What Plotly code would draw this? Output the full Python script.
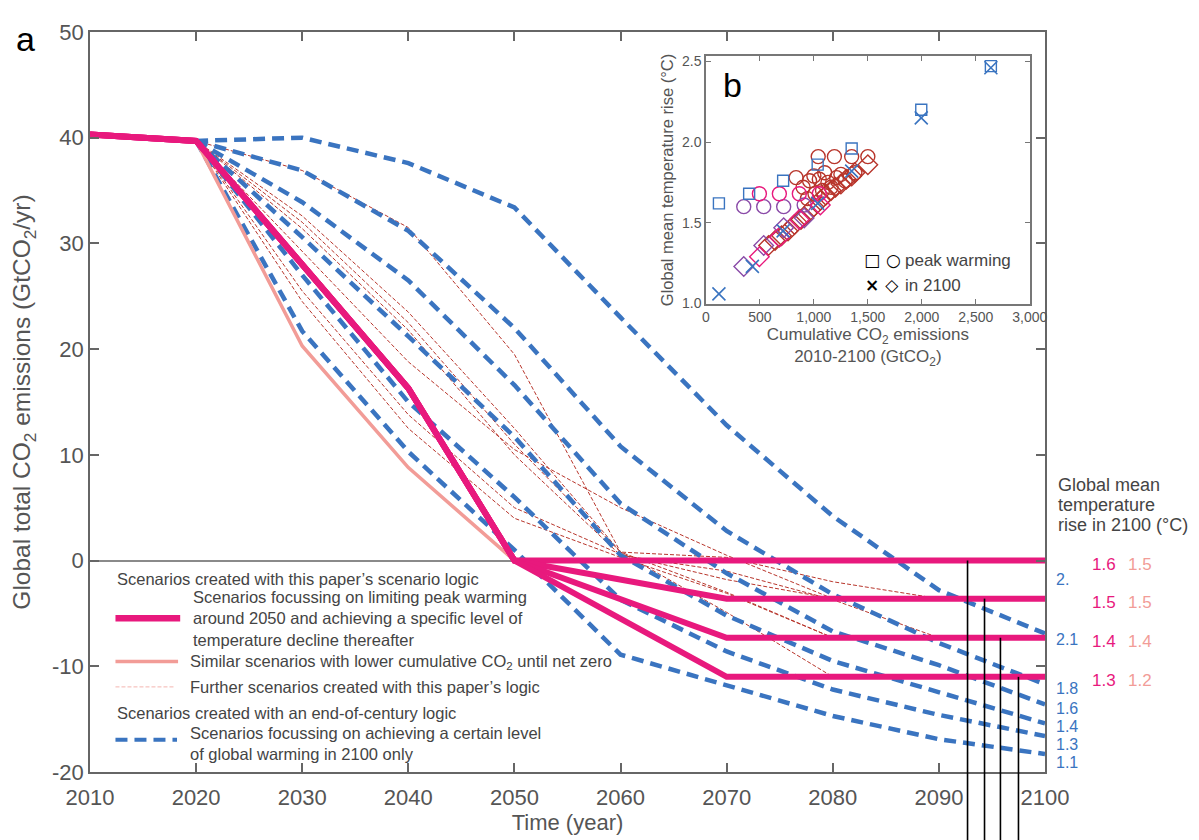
import plotly.graph_objects as go

# ---- panel a : global CO2 emission pathways (GtCO2/yr) ----
pink_years = [2010, 2020, 2040, 2050]
pink_vals = [40.3, 39.7, 16.3, 0.0]
pink_tail_years = [2070, 2100]
pink_levels = [0.0, -3.6, -7.3, -11.0]
pink_temp = ["1.6", "1.5", "1.4", "1.3"]
salmon_temp = ["1.5", "1.5", "1.4", "1.2"]

salmon_years = [2020, 2030, 2040, 2050]
salmon_vals = [39.7, 20.3, 8.8, 0.0]

blue_years = [2020, 2030, 2040, 2050, 2060, 2070, 2080, 2090, 2100]
blue_21 = [39.7, 40.0, 37.6, 33.4, 23.0, 12.8, 4.2, -2.8, -6.9]
blue_18 = [39.7, 36.9, 31.2, 22.0, 10.8, 2.8, -3.2, -7.8, -11.7]
blue_16 = [39.7, 33.9, 26.5, 16.6, 5.4, -1.2, -6.7, -9.9, -13.6]
blue_14 = [39.7, 30.6, 21.2, 11.7, 0.5, -5.2, -9.5, -12.4, -15.4]
blue_13 = [39.7, 27.0, 15.0, 6.0, -3.7, -8.6, -12.2, -14.6, -16.6]
blue_11 = [39.7, 21.7, 10.3, 1.0, -8.9, -11.8, -14.7, -16.9, -18.3]
blue_labels = ["2.", "2.1", "1.8", "1.6", "1.4", "1.3", "1.1"]
blue_label_y = [-1.8, -7.5, -12.1, -14.0, -15.7, -17.4, -19.1]

red_years_a = [2020, 2030, 2040, 2050, 2060, 2070, 2080]
red_years_b = [2020, 2030, 2040, 2050, 2060, 2070, 2080, 2090]
red_1 = [39.7, 36.9, 31.5, 19.5, 0.8, -3.0, -7.3]
red_2 = [39.7, 32.6, 23.5, 12.5, 0.8, -4.9, -11.0]
red_3 = [39.7, 32.0, 22.5, 11.0, 0.8, 0.3, -2.0, -3.6]
red_4 = [39.7, 31.4, 21.8, 10.0, 0.5, -1.0, -3.7, -7.3]
red_5 = [39.7, 29.2, 18.8, 10.5, 5.0, 0.5, -3.6]
red_6 = [39.7, 25.5, 13.8, 5.0, 0.6, -1.8, -3.6]
red_7 = [39.7, 24.5, 12.5, 4.0, 0.3, -3.1, -7.3]

marker_years = [2092.7, 2094.3, 2095.8, 2097.5]

# ---- panel b : cumulative emissions vs warming ----
blue_sq_x = [120, 400, 715, 1035, 1350, 1995, 2640]
blue_sq_y = [1.62, 1.68, 1.76, 1.86, 1.96, 2.20, 2.47]
blue_x_x = [120, 430, 715, 1035, 1350, 1995, 2640]
blue_x_y = [1.06, 1.23, 1.45, 1.62, 1.82, 2.15, 2.46]
purple_c_x = [350, 535, 720, 910]
purple_c_y = [1.60, 1.60, 1.60, 1.61]
purple_d_x = [350, 535, 720, 910]
purple_d_y = [1.23, 1.36, 1.47, 1.53]
pink_c_x = [495, 680, 865, 1050]
pink_c_y = [1.68, 1.68, 1.68, 1.68]
pink_d_x = [495, 680, 865, 1060]
pink_d_y = [1.29, 1.41, 1.52, 1.61]
red_c_x = [835, 900, 960, 1000, 1040, 1050, 1100, 1130, 1190, 1210, 1250, 1290,
           1350, 1380, 1500, 940, 1010, 1080, 1160]
red_c_y = [1.78, 1.72, 1.76, 1.79, 1.91, 1.77, 1.81, 1.75, 1.91, 1.78, 1.80, 1.76,
           1.91, 1.81, 1.91, 1.65, 1.68, 1.70, 1.72]
red_d_x = [580, 640, 700, 760, 820, 880, 940, 1000, 1060, 1110, 1160, 1200, 1250,
           1300, 1350, 1380, 1500]
red_d_y = [1.36, 1.39, 1.42, 1.45, 1.49, 1.52, 1.56, 1.60, 1.64, 1.67, 1.70, 1.72,
           1.74, 1.77, 1.79, 1.81, 1.86]

PINK = "#E8197D"
SALMON = "#F29C97"
BLUE = "#3A74C0"
RED = "#B8352B"
PALE = "#F4B4AF"
PURPLE = "#8A4BA8"
TXT = "#444444"
FONT = "Liberation Sans, Arial, sans-serif"

fig = go.Figure()

for yy, xx in [(red_1, red_years_a), (red_2, red_years_a), (red_3, red_years_b),
               (red_4, red_years_b), (red_5, red_years_a), (red_6, red_years_a),
               (red_7, red_years_a)]:
    fig.add_trace(go.Scatter(x=xx, y=yy, mode="lines",
                             line=dict(color=RED, width=1, dash="4px,2px")))

for yy in [blue_21, blue_18, blue_16, blue_14, blue_13, blue_11]:
    fig.add_trace(go.Scatter(x=blue_years, y=yy, mode="lines",
                             line=dict(color=BLUE, width=4.5, dash="12px,7px")))

fig.add_trace(go.Scatter(x=salmon_years, y=salmon_vals, mode="lines",
                         line=dict(color=SALMON, width=3.5)))

for lev in pink_levels:
    fig.add_trace(go.Scatter(x=pink_years + pink_tail_years,
                             y=pink_vals + [lev, lev], mode="lines",
                             line=dict(color=PINK, width=6)))

# inset
def inset(xs, ys, sym, col, size, lw=1.4):
    fig.add_trace(go.Scatter(x=xs, y=ys, xaxis="x2", yaxis="y2", mode="markers",
                             marker=dict(symbol=sym, size=size, color=col,
                                         line=dict(color=col, width=lw))))

inset(red_d_x, red_d_y, "diamond-open", RED, 15)
inset(red_c_x, red_c_y, "circle-open", RED, 14)
inset(purple_d_x, purple_d_y, "diamond-open", PURPLE, 15)
inset(purple_c_x, purple_c_y, "circle-open", PURPLE, 14)
inset(pink_d_x, pink_d_y, "diamond-open", PINK, 15)
inset(pink_c_x, pink_c_y, "circle-open", PINK, 14)
inset(blue_sq_x, blue_sq_y, "square-open", BLUE, 11)
inset(blue_x_x, blue_x_y, "x-thin", BLUE, 13, 1.6)

ann = []
shapes = []

# right-hand temperature labels
for yp, line in zip([0.388, 0.3605, 0.334],
                    ["Global mean", "temperature", "rise in 2100 (°C)"]):
    ann.append(dict(xref="paper", yref="paper", x=1.011, y=yp, xanchor="left",
                    yanchor="middle", showarrow=False, text=line,
                    font=dict(size=18, color=TXT)))
for lev, pt, st in zip(pink_levels, pink_temp, salmon_temp):
    ann.append(dict(xref="paper", yref="y", x=1.0618, y=lev, yshift=-4,
                    xanchor="center", yanchor="middle",
                    showarrow=False, text=pt, font=dict(size=17, color=PINK)))
    ann.append(dict(xref="paper", yref="y", x=1.0995, y=lev, yshift=-4,
                    xanchor="center", yanchor="middle",
                    showarrow=False, text=st, font=dict(size=17, color=SALMON)))
for yl, lab in zip(blue_label_y, blue_labels):
    ann.append(dict(xref="paper", yref="y", x=1.0095, y=yl,
                    xanchor="left", yanchor="middle", showarrow=False, text=lab,
                    font=dict(size=16, color=BLUE)))

# vertical pointer lines
for xv, lev in zip(marker_years, pink_levels):
    shapes.append(dict(type="line", xref="x", yref="paper", x0=xv, x1=xv,
                       y0=-0.1, y1=(lev + 20) / 70, line=dict(color="black", width=1.6)))

# hand-built legend
def leg_text(x, y, t):
    ann.append(dict(xref="x", yref="y", x=x, y=y, xanchor="left", yanchor="middle",
                    align="left", showarrow=False, text=t,
                    font=dict(size=16.5, color=TXT)))

def leg_line(x0, x1, y, col, w, dash="solid"):
    shapes.append(dict(type="line", xref="x", yref="y", x0=x0, x1=x1, y0=y, y1=y,
                       line=dict(color=col, width=w, dash=dash)))

leg_text(2012.4, -1.75, "Scenarios created with this paper’s scenario logic")
leg_line(2012.4, 2018.5, -5.45, PINK, 6.5)
leg_text(2019.5, -5.45, "Scenarios focussing on limiting peak warming<br>"
         "around 2050 and achieving a specific level of<br>temperature decline thereafter")
leg_line(2012.4, 2018.3, -9.55, SALMON, 3.5)
leg_text(2019.2, -9.6, "Similar scenarios with lower cumulative CO<sub>2</sub> until net zero")
leg_line(2012.4, 2018.0, -11.95, PALE, 1, "4px,2px")
leg_text(2019.2, -11.95, "Further scenarios created with this paper’s logic")
leg_text(2012.4, -14.45, "Scenarios created with an end-of-century logic")
leg_line(2012.4, 2018.2, -16.95, BLUE, 4, "12px,7px")
leg_text(2019.2, -17.3, "Scenarios focussing on achieving a certain level<br>"
         "of global warming in 2100 only")

# panel letters
ann.append(dict(xref="paper", yref="paper", x=-0.068, y=0.99, xanchor="center",
                yanchor="middle", showarrow=False,
                text="a", font=dict(size=34, color="black")))
ann.append(dict(xref="x2 domain", yref="y2 domain", x=0.083, y=0.885,
                xanchor="center", yanchor="middle", showarrow=False,
                text="b", font=dict(size=34, color="black")))

# inset legend
for yd, sym, lab in [(0.175, "□ ○", "peak warming"), (0.075, "× ◇", "in 2100")]:
    ann.append(dict(xref="x2 domain", yref="y2 domain", x=0.545, y=yd,
                    xanchor="center", yanchor="middle",
                    showarrow=False, text="<b>" + sym + "</b>",
                    font=dict(size=17, color="black", family="DejaVu Sans")))
    ann.append(dict(xref="x2 domain", yref="y2 domain", x=0.61, y=yd, xanchor="left",
                    yanchor="middle", showarrow=False, text=lab,
                    font=dict(size=17, color=TXT)))

main_ticks = [-20, -10, 0, 10, 20, 30, 40, 50]

fig.update_layout(
    width=1191, height=832,
    margin=dict(l=82, r=154, t=12, b=65),
    paper_bgcolor="white", plot_bgcolor="white",
    showlegend=False,
    font=dict(family=FONT, color=TXT),
    annotations=ann, shapes=shapes,
    xaxis=dict(range=[2010, 2100], tickvals=list(range(2010, 2101, 10)),
               ticks="inside", ticklen=9, tickwidth=1.5, tickcolor="#666",
               showline=True, linecolor="#666", linewidth=1.5, mirror="ticks",
               showgrid=False, zeroline=False, ticklabelstandoff=5,
               tickfont=dict(size=22, color="#555"),
               title=dict(text="Time (year)", font=dict(size=22, color="#555"),
                          standoff=2)),
    yaxis=dict(range=[-20, 50], tickvals=main_ticks,
               ticktext=[str(v) for v in main_ticks],
               ticks="inside", ticklen=9, tickwidth=1.5, tickcolor="#666",
               showline=True, linecolor="#666", linewidth=1.5, mirror="ticks",
               showgrid=False, zeroline=True, zerolinecolor="#8a8a8a", zerolinewidth=1.5,
               tickfont=dict(size=22, color="#555"),
               title=dict(text="Global total CO<sub>2</sub> emissions (GtCO<sub>2</sub>/yr)",
                          font=dict(size=24.5, color="#555"), standoff=14)),
    xaxis2=dict(domain=[0.645, 0.984], anchor="y2", range=[0, 3000],
                tickvals=list(range(0, 3001, 500)), tickformat=",",
                ticks="inside", ticklen=5, tickcolor="#777",
                showline=True, linecolor="#777", linewidth=1.5, mirror="ticks",
                showgrid=False, zeroline=False,
                tickfont=dict(size=14, color="#555"),
                title=dict(text="Cumulative CO<sub>2</sub> emissions<br>2010-2100 (GtCO<sub>2</sub>)",
                           font=dict(size=17, color="#555"), standoff=4)),
    yaxis2=dict(domain=[0.633, 0.967], anchor="x2", range=[1.0, 2.53],
                tickvals=[1.0, 1.5, 2.0, 2.5], tickformat=".1f",
                ticks="inside", ticklen=5, tickcolor="#777",
                showline=True, linecolor="#777", linewidth=1.5, mirror="ticks",
                showgrid=False, zeroline=False,
                tickfont=dict(size=14, color="#555"),
                title=dict(text="Global mean temperature rise (°C)",
                           font=dict(size=16.5, color="#555"), standoff=4)),
)

fig.write_html("out.html")
